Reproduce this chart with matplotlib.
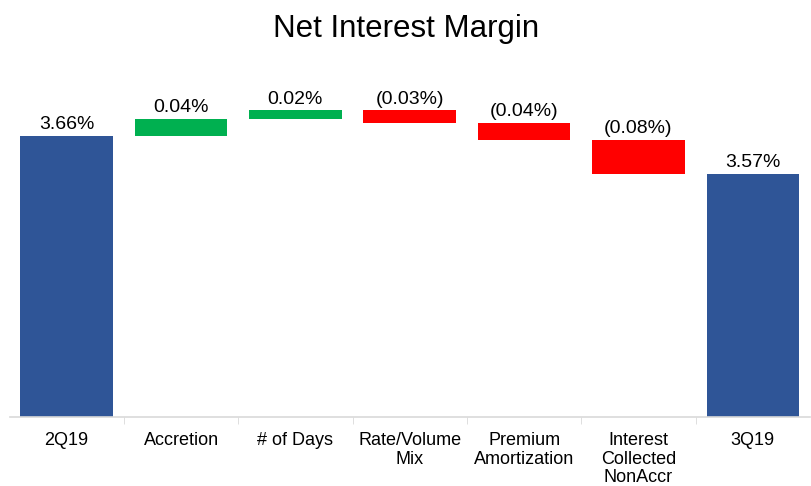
import matplotlib.pyplot as plt
import numpy as np

plt.rcParams['font.family'] = ['Liberation Sans', 'DejaVu Sans']

# dane
kategorie = ['2Q19', 'Accretion', '# of Days', 'Rate/Volume\nMix',
             'Premium\nAmortization', 'Interest\nCollected\nNonAccr', '3Q19']
zmiany = [3.66, 0.04, 0.02, -0.03, -0.04, -0.08, 3.57]
etykiety = ['3.66%', '0.04%', '0.02%', '(0.03%)', '(0.04%)', '(0.08%)', '3.57%']

niebieski = '#2F5597'
zielony = '#00B050'
czerwony = '#FF0000'
dol = 3.0

fig = plt.figure(figsize=(8.12, 4.86), dpi=100)
ax = fig.add_axes([9.5 / 812, 69 / 486, 800.5 / 812, (417 - 76) / 486])

x = np.arange(len(kategorie))
poziom = 0.0
for i, z in enumerate(zmiany):
    if i == 0 or i == len(zmiany) - 1:
        start, wys, kolor = dol, z - dol, niebieski
        poziom = z
    else:
        start = poziom if z > 0 else poziom + z
        wys = abs(z)
        kolor = zielony if z > 0 else czerwony
        poziom += z
    ax.bar(x[i], wys, bottom=start, width=0.81, color=kolor)
    ax.text(x[i], start + wys + 0.006, etykiety[i], ha='center', va='bottom',
            fontsize=14, color='black')

ax.set_xlim(-0.5, len(kategorie) - 0.5)
ax.set_ylim(dol, 3.8)
ax.set_yticks([])
ax.set_xticks(x)
ax.set_xticklabels(kategorie, fontsize=13, linespacing=1.12)
ax.tick_params(axis='x', length=0, pad=11)
ax.set_xticks(np.arange(0.5, len(kategorie) - 1, 1), minor=True)
ax.tick_params(axis='x', which='minor', length=5, color='#D9D9D9', direction='out')
for s in ['top', 'right', 'left']:
    ax.spines[s].set_visible(False)
ax.spines['bottom'].set_color('#D9D9D9')
ax.spines['bottom'].set_linewidth(1.2)

fig.text(0.5, 1 - 29 / 486, 'Net Interest Margin', ha='center', va='center', fontsize=22.5)

fig.savefig('out.png', dpi=100)
